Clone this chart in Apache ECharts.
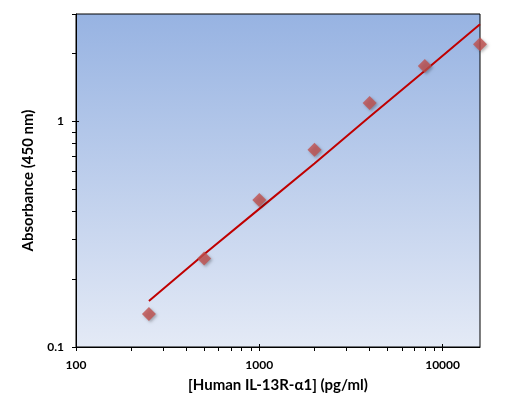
<!DOCTYPE html>
<html>
<head>
<meta charset="utf-8">
<script src="https://cdn.jsdelivr.net/npm/echarts@6/dist/echarts.min.js"></script>
<style>
  html, body { margin: 0; padding: 0; background: #fff; }
  #chart { width: 520px; height: 414px; }
</style>
</head>
<body>
<div id="chart"></div>
<script>
// standards (pg/ml) and measured absorbance
const concentrations = [250, 500, 1000, 2000, 4000, 8000, 16000];
const absorbance = [0.140, 0.247, 0.449, 0.750, 1.208, 1.766, 2.204];
// fitted curve
const fitX = [250, 500, 1000, 2000, 4000, 8000, 16000];
const fitY = [0.160, 0.258, 0.410, 0.652, 1.05, 1.68, 2.70];
// tick values
const xMajor = [100, 1000, 10000];
const xMinor = [200, 300, 400, 500, 600, 700, 800, 900, 2000, 3000, 4000, 5000, 6000, 7000, 8000, 9000];
const yMajor = [0.1, 1];
const yMinor = [0.2, 0.3, 0.4, 0.5, 0.6, 0.7, 0.8, 0.9, 2, 3];

const X_MIN = 100, X_MAX = 16000, Y_MIN = 0.1, Y_MAX = 3;
const font = "Lato, 'Open Sans', sans-serif";

const chart = echarts.init(document.getElementById("chart"));

const hidden = { show: false };
const box = { left: 76, right: 40, top: 14, bottom: 67 };
const tickStyle = { color: "#000", width: 1 };

// three stacked grids share one box: labels + major ticks, minor ticks, inner major ticks
const mkX = (gi, extra) => Object.assign({ type: "log", logBase: 10, min: X_MIN, max: X_MAX, gridIndex: gi, position: "bottom", splitLine: hidden, axisLine: hidden, axisLabel: hidden }, extra);
const mkY = (gi, extra) => Object.assign({ type: "log", logBase: 10, min: Y_MIN, max: Y_MAX, gridIndex: gi, position: "left", splitLine: hidden, axisLine: hidden, axisLabel: hidden }, extra);

chart.setOption({
  animation: false,
  backgroundColor: "#fff",
  grid: [
    Object.assign({
      show: true,
      borderColor: "#000",
      borderWidth: 1,
      backgroundColor: new echarts.graphic.LinearGradient(0, 0, 0, 1, [
        { offset: 0, color: "#97b3e2" },
        { offset: 1, color: "#e4eaf6" }
      ])
    }, box),
    Object.assign({}, box),
    Object.assign({}, box)
  ],
  xAxis: [
    mkX(0, {
      name: "[Human IL-13R-\u03b11] (pg/ml)",
      nameLocation: "middle",
      nameGap: 31,
      nameTextStyle: { fontFamily: font, fontWeight: "bold", fontSize: 15, color: "#000" },
      axisLine: { show: true, lineStyle: { color: "#000", width: 1 } },
      axisTick: { show: true, length: 4, lineStyle: tickStyle, customValues: xMajor },
      axisLabel: { show: true, margin: 12, customValues: xMajor, fontFamily: font, fontWeight: "bold", fontSize: 12, color: "#000", formatter: v => String(Math.round(v)) }
    }),
    mkX(1, { axisTick: { show: true, length: 4, lineStyle: tickStyle, customValues: xMinor } }),
    mkX(2, { axisTick: { show: true, inside: true, length: 3, lineStyle: tickStyle, customValues: xMajor } })
  ],
  yAxis: [
    mkY(0, {
      name: "Absorbance (450 nm)",
      nameLocation: "middle",
      nameGap: 40,
      nameTextStyle: { fontFamily: font, fontWeight: "bold", fontSize: 15, color: "#000" },
      axisLine: { show: true, lineStyle: { color: "#000", width: 1 } },
      axisTick: { show: true, length: 4, lineStyle: tickStyle, customValues: yMajor },
      axisLabel: { show: true, margin: 12, customValues: yMajor, fontFamily: font, fontWeight: "bold", fontSize: 12, color: "#000", formatter: v => String(v) }
    }),
    mkY(1, { axisTick: { show: true, length: 4, lineStyle: tickStyle, customValues: yMinor } }),
    mkY(2, { axisTick: { show: true, inside: true, length: 3, lineStyle: tickStyle, customValues: yMajor } })
  ],
  series: [
    {
      name: "fit",
      type: "line",
      xAxisIndex: 0,
      yAxisIndex: 0,
      data: fitX.map((x, i) => [x, fitY[i]]),
      showSymbol: false,
      lineStyle: { color: "#c00000", width: 2 },
      z: 2
    },
    {
      name: "standards",
      type: "scatter",
      xAxisIndex: 0,
      yAxisIndex: 0,
      data: concentrations.map((x, i) => [x, absorbance[i]]),
      symbol: "diamond",
      symbolSize: [14, 14],
      itemStyle: {
        color: "#c0504d",
        shadowBlur: 3,
        shadowColor: "rgba(0,0,0,0.35)",
        shadowOffsetX: 1.5,
        shadowOffsetY: 1.5
      },
      z: 3
    }
  ]
});
</script>
</body>
</html>
